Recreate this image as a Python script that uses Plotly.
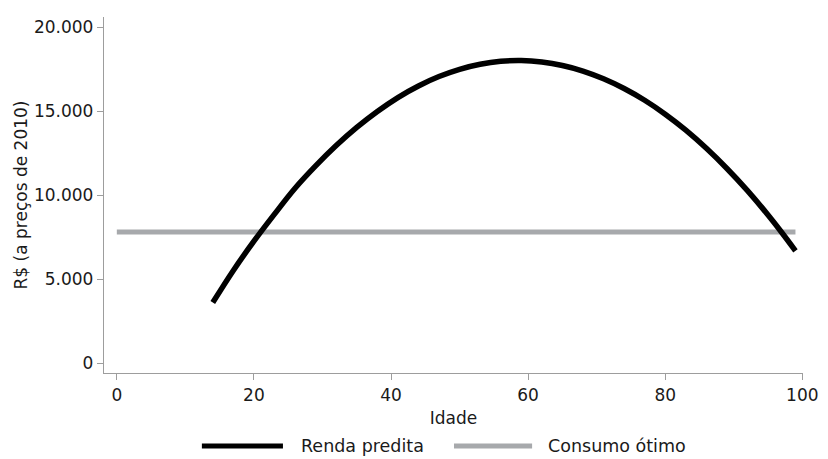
import plotly.graph_objects as go

# Data
idade = [14, 17, 20, 23, 26, 29, 32, 35, 38, 41, 44, 47, 50, 53, 56, 59, 62, 65, 68,
         71, 74, 77, 80, 83, 86, 89, 92, 95, 97, 99]
renda_predita = [3600, 5510, 7250, 8860, 10400, 11730, 12940, 14020, 14970, 15800, 16490,
                 17050, 17480, 17780, 17955, 18000, 17915, 17710, 17380, 16920, 16340,
                 15640, 14810, 13860, 12780, 11580, 10260, 8810, 7770, 6680]
consumo_idade = [0, 99]
consumo_otimo = [7800, 7800]

x_ticks = [0, 20, 40, 60, 80, 100]
y_ticks = [0, 5000, 10000, 15000, 20000]
y_ticklabels = ["0", "5.000", "10.000", "15.000", "20.000"]
series_names = ["Renda predita", "Consumo ótimo"]

BLACK = "#000000"
GREY = "#a7a9ac"
AXIS = "#9d9d9d"
TEXT = "#1a1a1a"
FONT = "DejaVu Sans"
FS = 17

fig = go.Figure()
fig.add_trace(go.Scatter(x=consumo_idade, y=consumo_otimo, mode="lines",
                         line=dict(color=GREY, width=5), name=series_names[1],
                         showlegend=False))
fig.add_trace(go.Scatter(x=idade, y=renda_predita, mode="lines",
                         line=dict(color=BLACK, width=5.5, shape="spline", smoothing=1.0),
                         name=series_names[0], showlegend=False))

# page body has an 8px margin: the figure is drawn 8px right/down of the window corner
OFF = 8
W, H = 828 - OFF, 459 - OFF
PL, PR, PT, PB = 104, 811, 17, 373          # plot area in window pixels
L, T = PL - OFF, PT - OFF
R = W + OFF - PR
B = H + OFF - PB
pw, ph = PR - PL, PB - PT

def px_to_paper_x(px):
    return (px - PL) / pw

def px_to_paper_y(py):
    return (PB - py) / ph

# manual legend (long line samples as in the reference)
leg_y = px_to_paper_y(446)
fig.add_shape(type="line", xref="paper", yref="paper",
              x0=px_to_paper_x(203), x1=px_to_paper_x(285), y0=leg_y, y1=leg_y,
              line=dict(color=BLACK, width=5))
fig.add_shape(type="line", xref="paper", yref="paper",
              x0=px_to_paper_x(458), x1=px_to_paper_x(537), y0=leg_y, y1=leg_y,
              line=dict(color=GREY, width=5))
fig.add_annotation(text=series_names[0], xref="paper", yref="paper",
                   x=px_to_paper_x(301), y=leg_y, xanchor="left", yanchor="middle",
                   showarrow=False, font=dict(family=FONT, size=17.5, color=TEXT))
fig.add_annotation(text=series_names[1], xref="paper", yref="paper",
                   x=px_to_paper_x(551), y=leg_y, xanchor="left", yanchor="middle",
                   showarrow=False, font=dict(family=FONT, size=17.5, color=TEXT))

fig.update_layout(
    width=W, height=H,
    margin=dict(l=L, r=R, t=T, b=B, pad=0),
    paper_bgcolor="white", plot_bgcolor="white",
    font=dict(family=FONT, size=FS, color=TEXT),
    showlegend=False,
    xaxis=dict(range=[-1.87, 100.1], tickvals=x_ticks, ticks="outside", ticklen=6,
               tickcolor=AXIS, showline=True, linecolor=AXIS, linewidth=1.3,
               showgrid=False, zeroline=False,
               title=dict(text="Idade", standoff=8, font=dict(size=FS))),
    yaxis=dict(range=[-595, 20595], tickvals=y_ticks, ticktext=y_ticklabels,
               ticks="outside", ticklen=6, tickcolor=AXIS, showline=True,
               linecolor=AXIS, linewidth=1.3, showgrid=False, zeroline=False,
               title=dict(text="R$ (a preços de 2010)", standoff=2, font=dict(size=FS))),
)

fig.write_html("out.html")
